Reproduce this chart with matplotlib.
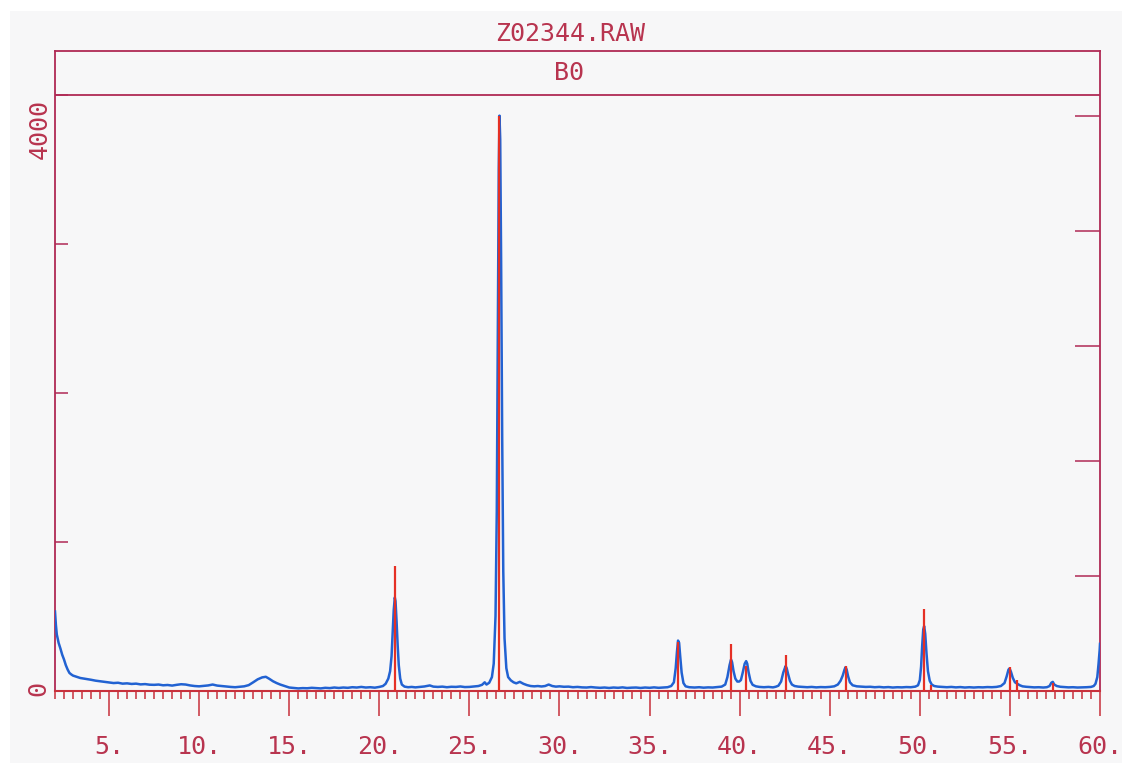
import matplotlib.pyplot as plt
from matplotlib.patches import Rectangle
from matplotlib.ticker import MultipleLocator, FixedLocator
import numpy as np

plt.rcParams['font.family'] = ['DejaVu Sans Mono', 'DejaVu Sans']

title = "Z02344.RAW"
sample = "B0"

two_theta = [2.00, 2.05, 2.10, 2.20, 2.30, 2.40, 2.50, 2.60, 2.70, 2.80, 2.90, 3.00,
             3.20, 3.40, 3.60, 3.80, 4.00, 4.25, 4.50, 4.75, 5.00,
             5.25, 5.50, 5.75, 6.00, 6.25, 6.50, 6.75, 7.00, 7.25, 7.50, 7.75, 8.00,
             8.25, 8.50, 8.75, 9.00, 9.25, 9.50, 9.75, 10.00, 10.25, 10.50, 10.75, 11.00,
             11.25, 11.50, 11.75, 12.00, 12.25, 12.50, 12.75, 13.00, 13.25, 13.50, 13.70,
             13.90, 14.10, 14.30, 14.50, 14.75, 15.00, 15.25, 15.50, 15.75, 16.00, 16.25,
             16.50, 16.75, 17.00, 17.25, 17.50, 17.75, 18.00, 18.25, 18.50, 18.75, 19.00,
             19.25, 19.50, 19.75, 20.00, 20.20, 20.35, 20.50, 20.60, 20.68, 20.74, 20.80,
             20.86, 20.90, 20.96, 21.02, 21.08, 21.16, 21.25, 21.40, 21.60, 21.80, 22.00,
             22.25, 22.50, 22.80, 23.00, 23.25, 23.50, 23.75, 24.00, 24.25, 24.50, 24.75,
             25.00, 25.25, 25.50, 25.70, 25.85, 25.95, 26.10, 26.25, 26.35, 26.45, 26.52,
             26.58, 26.63, 26.67, 26.71, 26.76, 26.82, 26.88, 26.95, 27.05, 27.15, 27.30,
             27.45, 27.60, 27.80, 28.00, 28.20, 28.40, 28.60, 28.80, 29.00, 29.20, 29.40,
             29.60, 29.80, 30.00, 30.25, 30.50, 30.75, 31.00, 31.25, 31.50, 31.75, 32.00,
             32.25, 32.50, 32.75, 33.00, 33.25, 33.50, 33.75, 34.00, 34.25, 34.50, 34.75,
             35.00, 35.25, 35.50, 35.75, 36.00, 36.20, 36.35, 36.45, 36.52, 36.58, 36.64,
             36.70, 36.78, 36.88, 37.00, 37.20, 37.50, 37.75, 38.00, 38.25, 38.50, 38.75,
             39.00, 39.20, 39.32, 39.44, 39.52, 39.58, 39.66, 39.76, 39.87, 39.97, 40.07,
             40.17, 40.28, 40.36, 40.42, 40.50, 40.60, 40.72, 40.90, 41.10, 41.35, 41.60,
             41.85, 42.00, 42.15, 42.30, 42.42, 42.55, 42.61, 42.69, 42.79, 42.90, 43.05,
             43.25, 43.50, 43.75, 44.00, 44.25, 44.50, 44.75, 45.00, 45.25, 45.45, 45.60,
             45.72, 45.82, 45.88, 45.94, 46.02, 46.12, 46.27, 46.50, 46.75, 47.00, 47.25,
             47.50, 47.75, 48.00, 48.25, 48.50, 48.75, 49.00, 49.25, 49.50, 49.75, 49.90,
             50.00, 50.07, 50.13, 50.19, 50.24, 50.30, 50.37, 50.45, 50.55, 50.66, 50.80,
             51.00, 51.25, 51.50, 51.75, 52.00, 52.25, 52.50, 52.75, 53.00, 53.25, 53.50,
             53.75, 54.00, 54.25, 54.50, 54.70, 54.82, 54.92, 54.98, 55.06, 55.16, 55.28,
             55.42, 55.55, 55.70, 55.90, 56.10, 56.35, 56.60, 56.85, 57.05, 57.20, 57.30,
             57.38, 57.46, 57.60, 57.80, 58.00, 58.25, 58.50, 58.75, 59.00, 59.25, 59.50,
             59.65, 59.75, 59.85, 59.92, 59.98, 60.00]
counts = [530, 440, 376, 320, 282, 240, 208, 170, 141, 118, 108, 100,
          92, 84, 80, 76, 72, 66, 62, 58, 54,
          50, 52, 46, 48, 44, 46, 41, 43, 39, 38, 40, 35,
          37, 33, 38, 42, 40, 34, 30, 28, 31, 34, 40, 33,
          30, 27, 24, 22, 25, 28, 36, 55, 75, 88, 92,
          78, 62, 50, 40, 30, 20, 17, 14, 16, 15, 18,
          16, 14, 18, 16, 20, 17, 20, 18, 22, 20, 24,
          20, 22, 19, 24, 30, 45, 80, 130, 230, 380, 540,
          624, 600, 460, 300, 170, 80, 40, 26, 22, 24, 21,
          24, 27, 34, 26, 24, 26, 22, 25, 24, 27, 23,
          24, 27, 30, 38, 55, 40, 52, 90, 180, 500, 1200,
          2400, 3500, 3858, 3700, 2900, 1700, 800, 350, 150, 90, 68,
          55, 48, 58, 45, 36, 30, 28, 30, 27, 30, 40,
          30, 26, 28, 25, 26, 22, 24, 21, 20, 23, 20,
          18, 20, 17, 20, 18, 21, 17, 19, 20, 17, 20,
          18, 21, 18, 20, 22, 30, 55, 150, 260, 335, 320,
          230, 120, 50, 28, 22, 20, 22, 19, 21, 20, 23,
          26, 40, 90, 170, 208, 190, 130, 80, 60, 60, 70,
          120, 180, 197, 180, 120, 65, 38, 28, 24, 22, 24,
          21, 25, 32, 60, 120, 164, 150, 110, 65, 40, 30,
          26, 24, 22, 24, 21, 23, 22, 24, 28, 40, 65,
          100, 140, 157, 140, 95, 55, 35, 28, 26, 24, 25,
          22, 24, 21, 23, 20, 22, 21, 23, 22, 26, 35,
          70, 160, 300, 410, 432, 380, 250, 130, 65, 40, 30,
          26, 24, 22, 24, 21, 23, 20, 22, 20, 22, 21,
          23, 22, 24, 30, 50, 95, 140, 148, 125, 85, 55,
          45, 35, 28, 25, 23, 21, 22, 20, 22, 30, 52,
          58, 40, 30, 25, 23, 21, 22, 20, 21, 22, 24,
          30, 45, 90, 180, 270, 313]

# reference pattern lines: position (deg) and intensity (% of strongest)
stick_pos = [20.86, 26.67, 36.58, 39.52, 40.36, 42.55, 45.88, 50.22, 50.64, 54.98, 55.42, 57.38]
stick_rel = [21.7, 100.0, 8.5, 8.1, 4.3, 6.2, 4.3, 14.1, 1.0, 4.1, 1.9, 1.3]

x_labels = [5, 10, 15, 20, 25, 30, 35, 40, 45, 50, 55, 60]
y_ticks = [0, 1000, 2000, 3000, 4000]
rel_ticks = [20, 40, 60, 80, 100]

W, H = 1122, 763
frame = '#b02a55'
axis_red = '#c8303c'
label_col = '#b8344f'
curve = '#2262d2'
stick = '#e53025'
fs = 18

fig = plt.figure(figsize=(W / 100, H / 100), dpi=100)
fig.patch.set_facecolor('white')
fig.add_artist(Rectangle((10 / W, 0), 1, 1 - 11 / H, transform=fig.transFigure,
                         facecolor='#f7f7f8', edgecolor='none', zorder=-10))

ax = fig.add_axes([55 / W, 1 - 690.5 / H, 1045 / W, (690.5 - 51) / H])
ax.set_facecolor('none')
ymax = 4292
ax.set_xlim(2, 60)
ax.set_ylim(0, ymax)

peak_max = max(counts)
ax.plot(two_theta, counts, color=curve, lw=1.8, zorder=3)
ax.vlines(stick_pos, 0, np.array(stick_rel) / 100 * peak_max, color=stick, lw=1.6, zorder=4)

ax.axhline(4000, color=frame, lw=1.3)
for side in ['left', 'right', 'top']:
    ax.spines[side].set_color(frame)
    ax.spines[side].set_linewidth(1.3)
ax.spines['bottom'].set_color(axis_red)
ax.spines['bottom'].set_linewidth(1.5)

ax.xaxis.set_major_locator(FixedLocator(x_labels))
ax.xaxis.set_minor_locator(MultipleLocator(0.5))
ax.tick_params(axis='x', which='major', direction='out', length=18, width=1.1,
               color=axis_red, labelbottom=False)
ax.tick_params(axis='x', which='minor', direction='out', length=6, width=1.1, color=axis_red)
ax.set_yticks(y_ticks)
ax.tick_params(axis='y', which='major', direction='in', length=9, width=1.1,
               color=frame, labelleft=False)

ax2 = ax.twinx()
ax2.set_ylim(0, ymax / peak_max * 100)
ax2.set_yticks(rel_ticks)
ax2.tick_params(axis='y', direction='in', length=18, width=1.1, color=frame, labelright=False)
for s in ax2.spines.values():
    s.set_visible(False)

for v in x_labels:
    ax.annotate(f"{v}.", xy=(v, 0), xycoords='data', xytext=(0, -63),
                textcoords='offset pixels', ha='center', va='baseline',
                fontsize=fs, color=label_col, annotation_clip=False)

ax.annotate("0", xy=(2, 0), xycoords='data', xytext=(-17, 2), textcoords='offset pixels',
            ha='center', va='center', rotation=90, fontsize=fs, color=label_col,
            annotation_clip=False)
ax.annotate("4000", xy=(2, 4000), xycoords='data', xytext=(-15, -4), textcoords='offset pixels',
            ha='center', va='top', rotation=90, fontsize=fs, color=label_col,
            annotation_clip=False)

fig.text(570 / W, 1 - 34 / H, title, ha='center', va='center', fontsize=fs, color=label_col)
ax.text(0.492, (4000 + ymax) / 2, sample, transform=ax.get_yaxis_transform(),
        ha='center', va='center', fontsize=fs, color=label_col)

fig.savefig('out.png', dpi=100)
